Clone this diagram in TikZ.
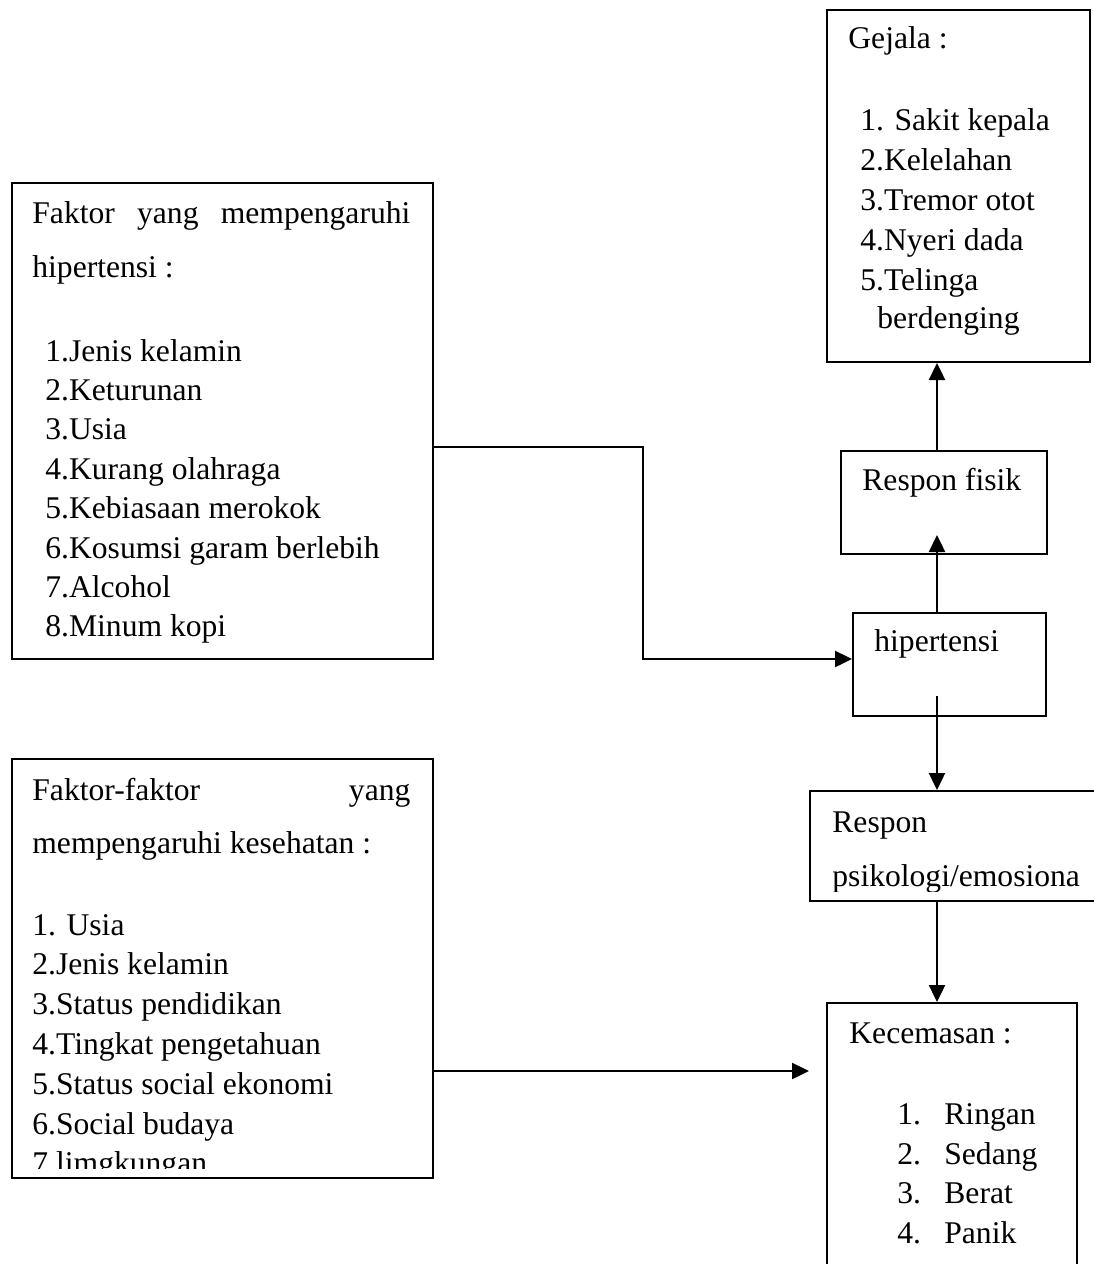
\documentclass[tikz,border=0pt]{standalone}
\usepackage{fontspec}
\setmainfont{Liberation Serif}
\usepackage{tikz}
\usetikzlibrary{positioning, arrows.meta}

\tikzset{
  boxnode/.style={draw, line width=1pt, inner sep=0pt},
  txt/.style={anchor=base west, inner sep=0pt, font=\fontsize{15.8}{20}\selectfont},
  arr/.style={-{Triangle[length=8.5pt,width=8pt]}, line width=1.2pt}
}

\begin{document}
\begin{tikzpicture}[x=0.5pt, y=-0.5pt]
\useasboundingbox (0,0) rectangle (1093,1264);

% boxes
\node[boxnode, minimum width=210.5pt, minimum height=238pt] (faktorhip) at (222.5,421) {};
\node[boxnode, minimum width=210.5pt, minimum height=209.5pt] (faktorkes) at (222.5,968.5) {};
\node[boxnode, minimum width=131.5pt, minimum height=176pt] (gejala) at (958.5,186) {};
\node[boxnode, minimum width=103pt, minimum height=51.5pt] (fisik) at (944,502.5) {};
\node[boxnode, minimum width=96.5pt, minimum height=51.5pt] (hiper) at (949.5,664.5) {};
\node[boxnode, minimum width=160pt, minimum height=55pt] (psiko) at (970,846) {};
\node[boxnode, minimum width=125pt, minimum height=148.5pt] (cemas) at (952,1151.5) {};

% faktor hipertensi
\node[txt] (fhtitle) at (32,223) {\makebox[189pt][s]{Faktor yang mempengaruhi}};
\node[txt] (fhsub) at (32,277) {hipertensi :};
\foreach \entry [count=\i] in {1.Jenis kelamin, 2.Keturunan, 3.Usia, 4.Kurang olahraga,
  5.Kebiasaan merokok, 6.Kosumsi garam berlebih, 7.Alcohol, 8.Minum kopi}
  \node[txt] (fh\i) at (45,321.6+39.4*\i) {\entry};

% faktor kesehatan
\node[txt] (fktitle) at (32,800) {\makebox[189pt][s]{Faktor-faktor\hfill yang}};
\node[txt] (fksub) at (32,853) {mempengaruhi kesehatan :};
\begin{scope}
  \clip (faktorkes.north west) rectangle ([yshift=5.5pt]faktorkes.south east);
  \foreach \entry [count=\i] in {1. Usia, 2.Jenis kelamin, 3.Status pendidikan,
    4.Tingkat pengetahuan, 5.Status social ekonomi, 6.Social budaya, 7.limgkungan}
    \node[txt] (fk\i) at (32,895.2+39.8*\i) {\entry};
\end{scope}

% gejala
\node[txt] (gjtitle) at (848,48) {Gejala :};
\foreach \entry [count=\i] in {1. Sakit kepala, 2.Kelelahan, 3.Tremor otot, 4.Nyeri dada, 5.Telinga}
  \node[txt] (gj\i) at (860,90+40*\i) {\entry};
\node[txt] (gj6) at (877,328) {berdenging};

% respon
\node[txt] (fisiktext) at (862,490) {Respon fisik};
\node[txt] (hipertext) at (874,651) {hipertensi};
\begin{scope}
  \clip (psiko.north west) rectangle ([yshift=5.5pt]psiko.south east);
  \node[txt] (psiko1) at (832,832) {Respon};
  \node[txt] (psiko2) at (832,886) {psikologi/emosiona};
\end{scope}

% kecemasan
\node[txt] (cmtitle) at (849,1043) {Kecemasan :};
\foreach \entry [count=\i] in {Ringan, Sedang, Berat, Panik}
  \node[txt] (cm\i) at (897,1085+39.5*\i) {\makebox[23.5pt][l]{\i.}\entry};

% arrows
\coordinate (axis) at (937,0);
\draw[arr] (fisik.north -| axis) -- (gejala.south -| axis);
\draw[arr, shorten >=-10pt] (hiper.north -| axis) -- (fisik.south -| axis);
\draw[arr, shorten <=-10.5pt] (hiper.south -| axis) -- (psiko.north -| axis);
\draw[arr] (psiko.south -| axis) -- (cemas.north -| axis);

\coordinate (bend) at (643,550);
\draw[arr] ([yshift=-13pt]faktorhip.east) -| (bend) |- ([yshift=2.75pt]hiper.west);
\coordinate (cemasin) at (809,1071);
\draw[arr] (faktorkes.east |- cemasin) -- (cemasin);
\end{tikzpicture}
\end{document}
